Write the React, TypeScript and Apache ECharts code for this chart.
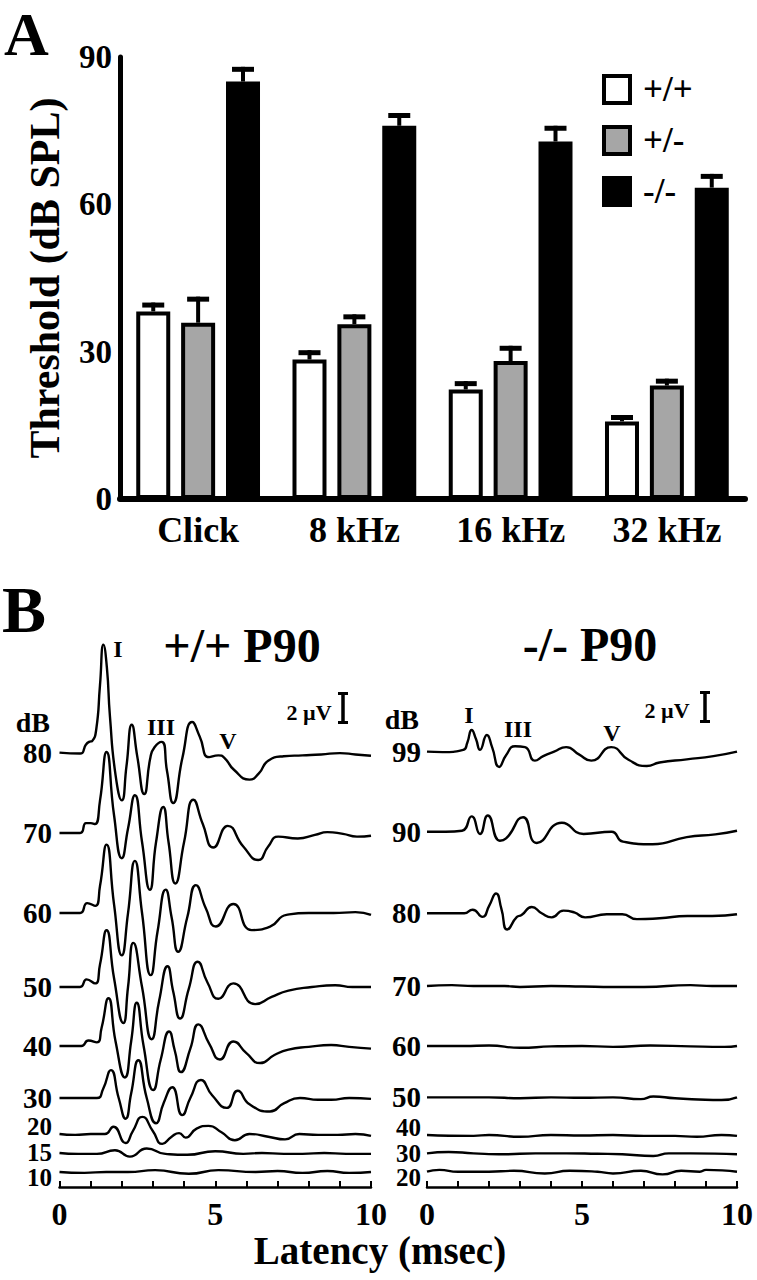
import React, { useEffect, useRef } from "react";
import * as echarts from "echarts";

// ---------- Panel A data ----------
const categories = ["Click", "8 kHz", "16 kHz", "32 kHz"];
const genotypes = ["+/+", "+/-", "-/-"];
const thrWT = [38.2, 28.4, 22.3, 15.8];
const thrHet = [35.9, 35.6, 28.1, 23.1];
const thrKO = [85.0, 76.0, 72.8, 63.4];
const errWT = [1.8, 1.9, 1.7, 1.3];
const errHet = [5.3, 2.0, 3.1, 1.4];
const errKO = [3.0, 2.6, 3.2, 2.8];
const thresholdTicks = [0, 30, 60, 90];

// ---------- Panel B data (latency ms, amplitude) ----------
const wtLevels = ["80", "70", "60", "50", "40", "30", "20", "15", "10"];
const wtBaselines = [48.26, 39.33, 30.44, 22.22, 15.67, 9.89, 5.89, 3.78, 1.67];
const koLevels = ["99", "90", "80", "70", "60", "50", "40", "30", "20"];
const koBaselines = [48.37, 39.48, 30.41, 22.33, 15.67, 9.96, 5.78, 3.74, 1.7];

const wt80 = [[0,0],[0.66,-0.1],[0.85,0.9],[0.95,1.2],[1.05,1.3],[1.18,2.6],[1.3,7.5],[1.41,12.0],[1.52,9.5],[1.62,4],[1.8,-2.5],[2.0,-5.3],[2.15,-1.5],[2.32,3.1],[2.5,-0.5],[2.72,-4.6],[2.92,-0.5],[3.05,0.6],[3.28,1.2],[3.45,-2],[3.65,-5.6],[3.95,-0.5],[4.26,3.4],[4.5,1.8],[4.8,-0.5],[5.1,-0.3],[5.3,-0.6],[5.6,-1.9],[6.1,-3.0],[6.4,-2.3],[6.7,-0.9],[7.2,-0.4],[7.8,-0.3],[8.4,-0.2],[9.0,-0.05],[9.5,-0.2],[10,-0.35]];
const wt70 = [[0,0],[0.66,0],[0.85,1.1],[1.0,1.1],[1.14,1.0],[1.3,3.6],[1.51,9.0],[1.75,2],[2.0,-2.8],[2.2,0.5],[2.42,4.2],[2.65,-1],[2.9,-6.3],[3.1,-1],[3.33,2.9],[3.5,-1],[3.72,-5.6],[4.0,-1],[4.3,3.7],[4.6,1],[4.94,-1.6],[5.4,0.8],[5.9,-1.5],[6.38,-3.0],[6.7,-1.5],[7.02,-0.4],[7.65,-0.6],[8.2,-0.2],[8.6,0.1],[9.1,-0.1],[9.55,-0.4],[10,-0.3]];
const wt60 = [[0,0],[0.66,0],[0.89,1.1],[1.15,0.8],[1.3,3],[1.51,7.6],[1.75,1],[2.0,-4.7],[2.2,0],[2.42,5.8],[2.65,0],[2.93,-6.9],[3.15,-2],[3.41,2.6],[3.6,-0.5],[3.81,-4.3],[4.1,-0.5],[4.38,3.1],[4.7,0.5],[5.02,-1.5],[5.58,1.0],[6.17,-1.9],[6.76,-1.5],[7.29,-0.2],[8.0,0],[8.8,0],[9.5,0.1],[10,-0.2]];
const wt50 = [[0,0],[0.66,0],[0.87,0.85],[1.14,0.4],[1.3,2.5],[1.51,6.3],[1.75,1],[2.05,-4.0],[2.2,0],[2.37,4.9],[2.65,0],[2.96,-5.8],[3.2,-1.5],[3.47,2.3],[3.65,-0.5],[3.87,-3.5],[4.15,-0.2],[4.44,2.8],[4.75,0.5],[5.1,-1.3],[5.58,0.4],[6.28,-1.9],[6.81,-1.1],[7.35,-0.4],[8.1,0],[8.85,0.2],[9.4,0],[10,0]];
const wt40 = [[0,0],[0.7,0],[0.93,0.6],[1.2,0.4],[1.35,2],[1.57,5.3],[1.8,0.5],[2.1,-3.5],[2.3,0.5],[2.48,4.8],[2.7,0],[3.01,-4.9],[3.25,-1.5],[3.52,1.6],[3.7,-0.5],[3.9,-2.9],[4.2,-0.3],[4.46,2.4],[4.8,0.3],[5.15,-1.5],[5.58,0.5],[6.0,-0.8],[6.44,-1.9],[6.9,-1.0],[7.35,-0.4],[8.0,-0.1],[8.72,0.1],[9.3,-0.1],[10,-0.3]];
const wt30 = [[0,0],[1.2,0],[1.4,1.0],[1.65,3.1],[1.9,0],[2.12,-2.3],[2.3,0.5],[2.53,4.2],[2.8,0],[3.1,-2.8],[3.35,-0.5],[3.62,1.2],[3.94,-1.9],[4.2,0],[4.54,2.0],[4.9,0.3],[5.37,-1.1],[5.72,0.8],[6.1,-0.7],[6.76,-1.5],[7.2,-0.6],[7.72,0],[8.3,-0.2],[8.73,-0.2],[9.3,0],[10,-0.1]];
const wt20 = [[0,0],[0.5,-0.1],[1.0,0],[1.46,0],[1.73,0.8],[2.12,-1.0],[2.35,0.3],[2.66,1.9],[3.0,0.3],[3.3,-1.1],[3.6,-0.3],[3.84,0.1],[4.05,-0.4],[4.4,0.6],[4.78,0.9],[5.2,0.2],[5.63,-0.7],[6.1,0],[6.7,-0.3],[7.24,-0.6],[7.7,0],[8.3,-0.1],[8.93,-0.1],[9.5,0],[10,-0.2]];
const wt15 = [[0,0],[0.6,-0.1],[1.2,-0.1],[1.78,0.3],[2.26,-0.4],[2.8,0.5],[3.4,-0.1],[4.1,-0.2],[5.0,0.2],[5.9,-0.1],[6.5,0],[7.2,-0.1],[7.8,-0.1],[8.5,0],[9.2,-0.1],[10,-0.1]];
const wt10 = [[0,0],[0.8,-0.1],[1.5,0],[2.2,0],[3.07,0.2],[4.15,-0.2],[5.1,0.2],[6.3,0],[7.0,0.1],[7.8,-0.1],[8.6,0.1],[9.3,-0.1],[10,0]];

const ko99 = [[0,0],[0.5,-0.05],[1.17,0.2],[1.3,1.0],[1.44,2.4],[1.58,1.4],[1.71,0.2],[1.93,1.85],[2.1,0.5],[2.33,-1.7],[2.55,-0.4],[2.84,0.6],[3.16,0.5],[3.48,-1.0],[3.75,-0.5],[4.1,0.0],[4.49,0.5],[4.9,-0.3],[5.3,-1.0],[5.94,0.5],[6.5,-0.9],[7.09,-1.6],[7.5,-1.2],[8.38,-0.85],[9.24,-0.5],[10,0]];
const ko90 = [[0,0],[0.6,0],[1.13,0.1],[1.44,1.7],[1.71,-0.25],[1.96,1.8],[2.35,-1.0],[2.55,-0.75],[3.1,1.6],[3.54,-1.25],[4.35,1.0],[5.05,-0.25],[5.95,0],[6.32,-1.1],[7.28,-1.4],[8.38,-0.6],[9.3,-0.3],[10,0.1]];
const ko80 = [[0,0],[0.6,0],[1.2,0],[1.47,0.4],[1.79,-0.4],[2.0,0.8],[2.23,2.2],[2.4,0.5],[2.59,-1.8],[2.9,-0.4],[3.05,-0.2],[3.38,0.7],[3.7,0],[4.02,-0.45],[4.4,0.3],[4.75,0.1],[5.1,-0.45],[5.8,-0.1],[6.3,-0.1],[6.77,-0.65],[7.5,-0.55],[8.4,-0.3],[9.2,-0.3],[10,-0.1]];
const ko70 = [[0,0],[0.8,0.1],[1.5,0],[2.5,0],[3.0,-0.1],[4.0,0],[5.0,-0.05],[6.0,-0.1],[7.0,-0.1],[8.5,0.1],[9.2,0],[10,0]];
const ko60 = [[0,0],[1.2,0],[2.0,0.05],[3.0,-0.2],[4.0,-0.05],[5.0,0],[6.0,-0.1],[7.2,0.05],[8.5,-0.05],[9.6,-0.1],[10,0]];
const ko50 = [[0,0],[1.0,0],[2.0,0],[3.0,-0.1],[4.0,0],[5.0,-0.05],[6.0,0],[6.9,-0.2],[7.3,0.1],[8.0,-0.1],[9.5,-0.3],[10,0]];
const ko40 = [[0,0],[1.5,-0.1],[2.0,0],[3.0,-0.2],[4.0,0],[5.0,-0.05],[6.0,0],[7.0,-0.1],[8.0,-0.1],[8.7,-0.2],[9.5,0],[10,-0.1]];
const ko30 = [[0,0],[0.7,0.15],[1.5,0],[2.5,-0.1],[3.5,0],[4.5,0],[5.5,-0.05],[6.3,-0.1],[7.3,-0.3],[7.8,0],[8.5,0],[10,-0.1]];
const ko20 = [[0,0],[0.4,0.2],[1.0,0],[2.0,0],[2.8,0.1],[3.8,-0.2],[4.6,0.1],[5.5,0],[6.0,-0.2],[6.9,0.1],[7.6,-0.3],[8.2,0.1],[8.8,0],[9.0,0.2],[10,0]];

const wtTraces = [wt80, wt70, wt60, wt50, wt40, wt30, wt20, wt15, wt10];
const koTraces = [ko99, ko90, ko80, ko70, ko60, ko50, ko40, ko30, ko20];
const latencyTicks = [0, 5, 10];

// ---------- styling ----------
const SERIF = "'Liberation Serif', 'Times New Roman', serif";
const BAR_W = 34;
const BAR_GAP = 0.32;
const wtLabelShift = [0, 0, 0, 0, 0, 0, -7, 0, 6];
const koLabelShift = [0, 0, 0, 0, 0, 0, -7, 0, 6];
const levelFont = [29, 29, 29, 29, 29, 29, 25, 25, 25];

function errRender(idx: number) {
  const step = BAR_W * (1 + BAR_GAP);
  return (params: any, api: any) => {
    const c = api.value(0);
    const lo = api.coord([c, api.value(1)]);
    const hi = api.coord([c, api.value(2)]);
    const x = lo[0] + (idx - 1) * step;
    return {
      type: "group",
      children: [
        { type: "line", shape: { x1: x, y1: lo[1], x2: x, y2: hi[1] }, style: { stroke: "#000", lineWidth: 4 } },
        { type: "rect", shape: { x: x - 11, y: hi[1], width: 22, height: 5 }, style: { fill: "#000" } },
      ],
    };
  };
}

function txt(text: string, x: number, y: number, size: number, align = "center", vAlign = "middle") {
  return {
    type: "text",
    x,
    y,
    style: { text, fontFamily: SERIF, fontWeight: "bold", fontSize: size, fill: "#000", align, verticalAlign: vAlign },
  };
}

function bracket(x: number, y1: number, y2: number) {
  return [
    { type: "line", shape: { x1: x, y1, x2: x, y2 }, style: { stroke: "#000", lineWidth: 3.5 } },
    { type: "line", shape: { x1: x - 5, y1: y1 + 1.5, x2: x + 5, y2: y1 + 1.5 }, style: { stroke: "#000", lineWidth: 3 } },
    { type: "line", shape: { x1: x - 5, y1: y2 - 1.5, x2: x + 5, y2: y2 - 1.5 }, style: { stroke: "#000", lineWidth: 3 } },
  ];
}

export default function App() {
  const ref = useRef<HTMLDivElement>(null);
  useEffect(() => {
    if (!ref.current) return;
    const chart = echarts.init(ref.current, null, { renderer: "svg" });

    const barData = [thrWT, thrHet, thrKO];
    const errData = [errWT, errHet, errKO];
    const fills = ["#ffffff", "#a6a6a6", "#000000"];

    const barSeries = genotypes.map((g, i) => ({
      type: "bar",
      name: g,
      xAxisIndex: 0,
      yAxisIndex: 0,
      data: barData[i],
      barWidth: BAR_W,
      barGap: BAR_GAP * 100 + "%",
      itemStyle: { color: fills[i], borderColor: "#000", borderWidth: 4 },
      silent: true,
    }));
    const errSeries = genotypes.map((g, i) => ({
      type: "custom",
      name: g + " SEM",
      xAxisIndex: 0,
      yAxisIndex: 0,
      renderItem: errRender(i),
      data: barData[i].map((v, k) => [k, v, v + errData[i][k]]),
      encode: { x: 0, y: [1, 2] },
      silent: true,
      z: 3,
    }));

    const lineStyle = { color: "#000", width: 2.4 };
    const mkTraces = (traces: number[][][], bases: number[], levels: string[], axis: number) =>
      traces.map((tr, i) => ({
        type: "line",
        name: (axis === 1 ? "+/+ " : "-/- ") + levels[i] + " dB",
        xAxisIndex: axis,
        yAxisIndex: axis,
        data: tr.map(([t, v]) => [t, bases[i] + v]),
        showSymbol: false,
        smooth: 0.55,
        lineStyle,
        silent: true,
      }));

    const latencyAxis = (gi: number) => ({
      type: "value",
      gridIndex: gi,
      min: 0,
      max: 10,
      interval: 1,
      axisLine: { show: true, lineStyle: { color: "#000", width: 2.5 } },
      axisTick: { show: true, inside: true, length: 6, lineStyle: { color: "#000", width: 2 } },
      splitLine: { show: false },
      axisLabel: {
        formatter: (v: number) => (latencyTicks.indexOf(v) >= 0 ? String(v) : ""),
        fontFamily: SERIF,
        fontWeight: "bold",
        fontSize: 32,
        color: "#000",
        margin: 11,
      },
    });

    const option: any = {
      animation: false,
      backgroundColor: "#ffffff",
      textStyle: { fontFamily: SERIF, fontWeight: "bold", color: "#000" },
      grid: [
        { left: 120, right: 12, top: 57, height: 442 },
        { left: 59.5, width: 311.5, top: 587, height: 600 },
        { left: 427, width: 310, top: 587, height: 600 },
      ],
      legend: {
        data: genotypes,
        orient: "vertical",
        left: 597,
        top: 67,
        icon: "rect",
        itemWidth: 26,
        itemHeight: 27,
        itemGap: 16,
        selectedMode: false,
        itemStyle: { borderColor: "#000", borderWidth: 4 },
        textStyle: { fontFamily: SERIF, fontWeight: "bold", fontSize: 35, color: "#000", padding: [0, 0, 0, 8], lineHeight: 27 },
      },
      xAxis: [
        {
          type: "category",
          gridIndex: 0,
          data: categories,
          axisLine: { show: true, lineStyle: { color: "#000", width: 6 } },
          axisTick: { show: false },
          axisLabel: { fontFamily: SERIF, fontWeight: "bold", fontSize: 36, color: "#000", margin: 13 },
        },
        latencyAxis(1),
        latencyAxis(2),
      ],
      yAxis: [
        {
          type: "value",
          gridIndex: 0,
          min: thresholdTicks[0],
          max: thresholdTicks[thresholdTicks.length - 1],
          interval: 30,
          name: "Threshold (dB SPL)",
          nameLocation: "middle",
          nameGap: 54,
          nameTextStyle: { fontFamily: SERIF, fontWeight: "bold", fontSize: 42, color: "#000" },
          axisLine: { show: true, lineStyle: { color: "#000", width: 5 } },
          axisTick: { show: false },
          splitLine: { show: false },
          axisLabel: { fontFamily: SERIF, fontWeight: "bold", fontSize: 33, color: "#000", margin: 8 },
        },
        { type: "value", gridIndex: 1, min: 0, max: 600 / 9, show: false },
        { type: "value", gridIndex: 2, min: 0, max: 600 / 9, show: false },
      ],
      series: [
        ...barSeries,
        ...errSeries,
        ...mkTraces(wtTraces, wtBaselines, wtLevels, 1),
        ...mkTraces(koTraces, koBaselines, koLevels, 2),
      ],
    };
    chart.setOption(option);

    const graphics: any[] = [
      txt("A", 4, 3, 62, "left", "top"),
      txt("B", 2, 576, 66, "left", "top"),
      txt("+/+ P90", 242, 645, 48),
      txt("-/- P90", 590, 644, 48),
      txt("dB", 50, 722, 28, "right"),
      txt("dB", 419, 719, 28, "right"),
      txt("I", 118, 649, 24),
      txt("III", 161, 727, 24),
      txt("V", 228, 741, 24),
      txt("I", 469, 715, 24),
      txt("III", 518, 729, 24),
      txt("V", 612, 733, 24),
      txt("2 \u00B5V", 309, 712, 22),
      txt("2 \u00B5V", 667, 710, 22),
      ...bracket(343, 692, 724),
      ...bracket(705, 691, 723),
      txt("Latency (msec)", 380, 1250, 39),
    ];
    wtBaselines.forEach((b, i) => {
      const p = chart.convertToPixel({ gridIndex: 1 }, [0, b]) as number[];
      graphics.push(txt(wtLevels[i], 52, p[1] + wtLabelShift[i], levelFont[i], "right"));
    });
    koBaselines.forEach((b, i) => {
      const p = chart.convertToPixel({ gridIndex: 2 }, [0, b]) as number[];
      graphics.push(txt(koLevels[i], 421, p[1] + koLabelShift[i], levelFont[i], "right"));
    });
    chart.setOption({ graphic: graphics });

    return () => chart.dispose();
  }, []);
  return <div ref={ref} style={{ position: "absolute", left: 0, top: 0, width: 757, height: 1280 }} />;
}
